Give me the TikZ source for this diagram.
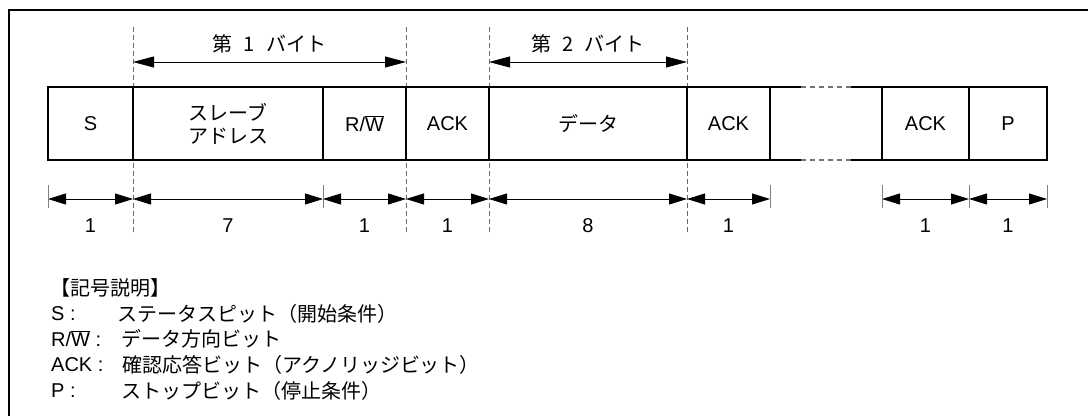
\documentclass[tikz,border=0pt]{standalone}
\usepackage{fontspec}
\setmainfont{Liberation Sans}
\newfontfamily\jp{Noto Sans CJK JP}
\usetikzlibrary{positioning,arrows.meta,backgrounds}

\newcommand{\rwbit}{R/$\overline{\mbox{W}}$}

\tikzset{
    txt/.style={inner sep=0pt, font=\fontsize{20}{23}\selectfont},
    field/.style={txt, draw, line width=1.2pt, minimum height=73pt, outer sep=0pt, align=center},
    boxline/.style={line width=1.2pt},
    gapline/.style={line width=1.2pt, black!55, dash pattern=on 5pt off 4pt},
    guide/.style={black!60, line width=0.9pt, dash pattern=on 5pt off 3pt},
    dim/.style={line width=0.8pt, {Triangle[length=18pt,width=11pt]}-{Triangle[length=18pt,width=11pt]}},
    bytedim/.style={line width=0.8pt, {Triangle[length=21pt,width=11pt]}-{Triangle[length=21pt,width=11pt]}},
    tick/.style={black!50, line width=0.8pt},
    leg/.style={txt, anchor=west},
}

\begin{document}
\begin{tikzpicture}[x=1pt,y=-1pt]
    \useasboundingbox (0,0) rectangle (1088,416);
    \draw[line width=2pt] (1088,10) -- (8.5,10) -- (8.5,416);

    % frame fields
    \node[field, minimum width=85pt, anchor=north west] (s) at (48,87) {S};
    \node[field, minimum width=190pt, right=0pt of s, font=\fontsize{20}{23}\selectfont\jp] (slave) {スレーブ\\アドレス};
    \node[field, minimum width=83pt, right=0pt of slave] (rw) {\rwbit};
    \node[field, minimum width=83pt, right=0pt of rw] (ack1) {ACK};
    \node[field, minimum width=198pt, right=0pt of ack1] (data) {\jp データ};
    \node[field, minimum width=83pt, right=0pt of data] (ack2) {ACK};
    \node[field, draw=none, minimum width=112pt, right=0pt of ack2] (gap) {};
    \node[field, minimum width=87pt, right=0pt of gap] (ack3) {ACK};
    \node[field, minimum width=78pt, right=0pt of ack3] (p) {P};

    \draw[boxline] (gap.north west) -- +(31,0) (gap.north east) -- +(-31,0);
    \draw[boxline] (gap.south west) -- +(31,0) (gap.south east) -- +(-31,0);
    \draw[gapline] ([xshift=31pt]gap.north west) -- ([xshift=-31pt]gap.north east);
    \draw[gapline] ([xshift=31pt]gap.south west) -- ([xshift=-31pt]gap.south east);

    \coordinate (gtop) at (0,27);
    \coordinate (gbot) at (0,235);
    \coordinate (bytey) at (0,62);
    \coordinate (bity) at (0,199);
    \coordinate (numy) at (0,226);
    \coordinate (ttop) at (0,185);
    \coordinate (tbot) at (0,208);

    \begin{scope}[on background layer]
        \foreach \d in {slave.west, rw.east, data.west, data.east}
            \draw[guide] (\d |- gtop) -- (\d |- gbot);
    \end{scope}

    % bytes
    \draw[bytedim] (slave.west |- bytey) -- (rw.east |- bytey)
        node[txt, midway, above=9pt] (byte1) {\jp 第\hspace{11pt}1\hspace{11pt}バイト};
    \draw[bytedim] (data.west |- bytey) -- (data.east |- bytey)
        node[txt, midway, above=9pt] (byte2) {\jp 第\hspace{11pt}2\hspace{11pt}バイト};

    % bit counts
    \foreach \f/\n in {s/1, slave/7, rw/1, ack1/1, data/8, ack2/1, ack3/1, p/1} {
        \draw[dim] (\f.west |- bity) -- (\f.east |- bity);
        \node[txt] (n-\f) at (\f.center |- numy) {\n};
    }
    \foreach \t in {s.west, rw.west, ack2.east, ack3.west, p.west, p.east}
        \draw[tick] (\t |- ttop) -- (\t |- tbot);

    % legend
    \node[leg] (title) at (50,288) {\jp 【記号説明】};
    \node[leg] (k-s) at (51,314) {S :};
    \node[leg] (d-s) at (117,314) {\jp ステータスピット（開始条件）};
    \node[leg] (k-rw) at (51,339) {\rwbit\ :};
    \node[leg] (d-rw) at (121,339) {\jp データ方向ビット};
    \node[leg] (k-ack) at (51,365) {ACK :};
    \node[leg] (d-ack) at (122,365) {\jp 確認応答ビット（アクノリッジビット）};
    \node[leg] (k-p) at (51,391) {P :};
    \node[leg] (d-p) at (121,391) {\jp ストップビット（停止条件）};
\end{tikzpicture}
\end{document}
